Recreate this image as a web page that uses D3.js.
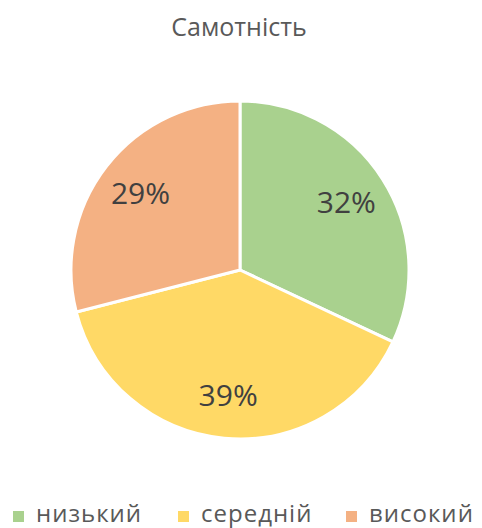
<!DOCTYPE html>
<html>
<head>
<meta charset="utf-8">
<script src="https://cdn.jsdelivr.net/npm/d3@7"></script>
<style>
  html, body { margin: 0; padding: 0; background: #fff; }
  svg { display: block; }
</style>
</head>
<body>
<svg id="chart" width="482" height="528"></svg>
<script>
const categories = ["низький", "середній", "високий"];
const values = [32, 39, 29];
const colors = ["#A9D18E", "#FFD966", "#F4B183"];
const title = "Самотність";

const svg = d3.select("#chart");
const cx = 240, cy = 270, R = 169;
const font = "'Open Sans', 'Noto Sans', sans-serif";

svg.append("text")
  .attr("x", 239).attr("y", 36)
  .attr("text-anchor", "middle")
  .attr("font-family", font)
  .attr("font-size", 25)
  .attr("fill", "#595959")
  .text(title);

const pie = d3.pie().sort(null).value(d => d)(values);
const arc = d3.arc().innerRadius(0).outerRadius(R);
const labelArc = d3.arc().innerRadius(R * 0.745).outerRadius(R * 0.745);

const g = svg.append("g").attr("transform", `translate(${cx},${cy})`);
g.selectAll("path").data(pie).join("path")
  .attr("d", arc)
  .attr("fill", (d, i) => colors[i])
  .attr("stroke", "#fff")
  .attr("stroke-width", 3)
  .attr("stroke-linejoin", "round");

g.selectAll("text.lbl").data(pie).join("text")
  .attr("class", "lbl")
  .attr("transform", d => `translate(${labelArc.centroid(d)})`)
  .attr("text-anchor", "middle")
  .attr("dy", "0.36em")
  .attr("font-family", font)
  .attr("font-size", 30)
  .attr("fill", "#404040")
  .text(d => d.data + "%");

// legend along the bottom edge
const legendX = [13, 178, 346];
const leg = svg.append("g");
categories.forEach((c, i) => {
  leg.append("rect")
    .attr("x", legendX[i]).attr("y", 511)
    .attr("width", 11).attr("height", 11)
    .attr("fill", colors[i]);
  leg.append("text")
    .attr("x", legendX[i] + 23).attr("y", 522)
    .attr("font-family", font)
    .attr("font-size", 24)
    .attr("letter-spacing", 1)
    .attr("fill", "#595959")
    .text(c);
});
</script>
</body>
</html>
